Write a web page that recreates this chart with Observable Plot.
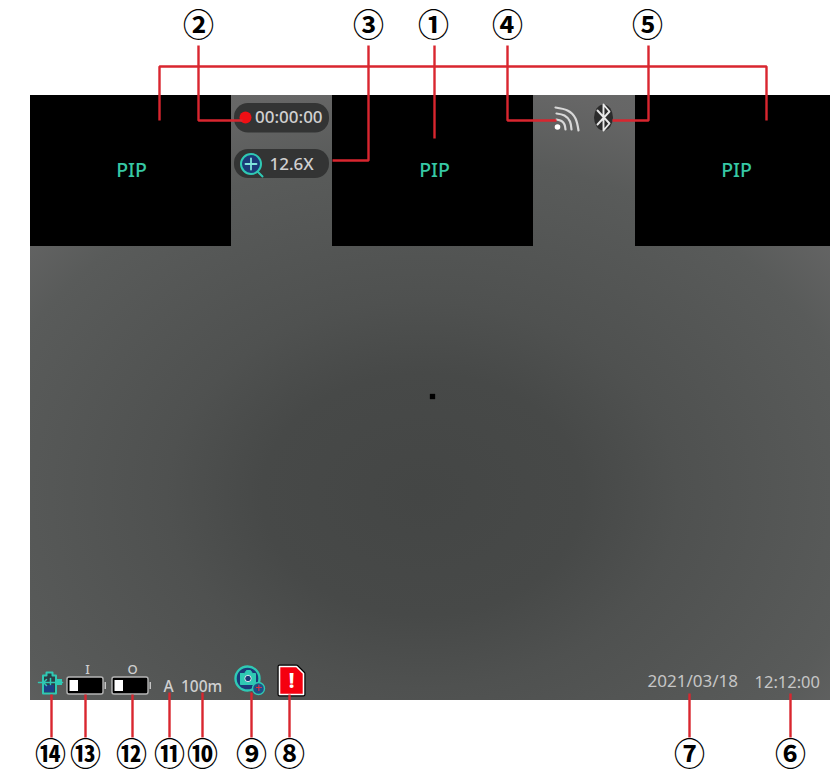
<!DOCTYPE html>
<html><head><meta charset="utf-8">
<style>html,body{margin:0;padding:0;background:#fff}svg{display:block}</style>
<script src="https://cdn.jsdelivr.net/npm/d3@7"></script>
<script src="https://cdn.jsdelivr.net/npm/@observablehq/plot@0.6"></script>
</head><body><script>
const RED="#d9262f", TEAL="#2fc9b4", NAVY="#1b3a78", LABEL="#d0d0d0";
const CALLOUT_FONT="'Noto Sans CJK SC','Noto Sans',sans-serif";

const frame=[{x1:30,x2:830,y1:95,y2:700}];
const pipPanels=[{x1:30,x2:231,y1:95,y2:246},{x1:332,x2:533,y1:95,y2:246},{x1:635,x2:830,y1:95,y2:246}];
const pipLabels=[{x:131,y:170,t:"PIP"},{x:434,y:170,t:"PIP"},{x:736,y:170,t:"PIP"}];
const pills=[{x1:234,x2:329,y1:103,y2:132.5},{x1:234,x2:329,y1:149,y2:178}];
const osdStart=[{x:254.5,y:117.5,t:"00:00:00"},{x:269,y:164,t:"12.6X"}];
const osdDate=[{x:647,y:681,t:"2021/03/18"}];
const osdTime=[{x:754,y:682,t:"12:12:00"}];
const rangeLabel=[{x:180.5,y:687,t:"100m"}];

const leaders=[
 [[159,120],[159,66],[766,66],[766,120]],
 [[434,45],[434,138]],
 [[198,45],[198,120],[242,120]],
 [[368,45],[368,160],[332,160]],
 [[507,45],[507,120],[556,120]],
 [[648,45],[648,120],[612,120]],
 [[51,694],[51,737]],[[85,694],[85,737]],[[132,694],[132,737]],[[169,692],[169,737]],
 [[202,692],[202,737]],[[251,692],[251,737]],[[289,694],[289,737]],[[689,693],[689,737]],[[790,693],[790,737]]
];
const callouts=[
 {x:433,y:25.5,t:"①"},{x:198,y:25.5,t:"②"},{x:368,y:25.5,t:"③"},{x:507,y:25.5,t:"④"},{x:647,y:25.5,t:"⑤"},
 {x:790,y:754.5,t:"⑥"},{x:689,y:754.5,t:"⑦"},{x:289,y:754.5,t:"⑧"},{x:251,y:754.5,t:"⑨"},{x:202,y:754.5,t:"⑩"},
 {x:169,y:754.5,t:"⑪"},{x:131,y:754.5,t:"⑫"},{x:85,y:754.5,t:"⑬"},{x:50,y:754.5,t:"⑭"}
];

const batteries=[{x1:67,x2:103,y1:677,y2:694},{x1:112,x2:148,y1:677,y2:694}];
const batteryFill=[{x1:69.5,x2:78,y1:680,y2:691},{x1:114.5,x2:123,y1:680,y2:691}];
const batteryNubs=[{x1:104.5,x2:106,y1:682,y2:689},{x1:149.5,x2:151,y1:682,y2:689}];
const batteryTags=[{x:87,y:669.5,t:"I"},{x:132,y:669.5,t:"O"}];

const wifiArcs=[
 [[556,119],[561,120.5],[564,124],[565,129]],
 [[556,113],[564,115],[569.5,121],[571,129]],
 [[555,107],[567,110],[575,118],[578,130]]
];
const btRune=[[597,110],[609,123],[603,130],[603,104],[609,111],[597,124]];
const sdCard=[[279,666],[296,666],[303,673],[303,694],[279,694],[279,666]];
const magHandle=[[257,171],[262,176]];
const magPlus=[[[245,163.5],[256,163.5]],[[250.5,158],[250.5,169]]];
const camBody=[[240,673],[244,673],[246,670],[250,670],[252,673],[255,673],[255,684],[240,684],[240,673]];
const pack14=[[42.5,675],[46,675],[46,672],[52,672],[52,675],[55.5,675],[55.5,693],[42.5,693],[42.5,675]];
const pack14Low=[{x1:44,x2:54,y1:685,y2:692}];
const arrow14=[[[38,682],[62,682]],[[46,679],[43,682],[46,685]],[[50,678],[50,684]]];
const nub14=[{x1:56,x2:62,y1:679,y2:685}];

const line=(pts,o)=>Plot.line(pts,{x:d=>d[0],y:d=>d[1],...o});
const R=(data,o)=>Plot.rect(data,{x1:"x1",x2:"x2",y1:"y1",y2:"y2",...o});
const T=(data,o)=>Plot.text(data,{x:"x",y:"y",text:"t",...o});
const gradient=()=>{
  const defs=d3.create("svg:defs");
  const g=defs.append("radialGradient").attr("id","sensor").attr("cx",.49).attr("cy",.66).attr("r",.8);
  [[0,"#444645"],[.25,"#474948"],[.4,"#4f5150"],[.7,"#595b5a"],[.85,"#666666"],[1,"#6a6c6b"]]
   .forEach(([o,c])=>g.append("stop").attr("offset",o).attr("stop-color",c));
  return defs.node();
};

const chart=Plot.plot({
 width:830,height:774,margin:0,
 style:{background:"#fff",fontFamily:"'Noto Sans',sans-serif"},
 x:{domain:[0,830],range:[0,830],axis:null},
 y:{domain:[0,774],range:[0,774],axis:null},
 marks:[
  gradient,
  R(frame,{fill:"url(#sensor)"}),
  R(pipPanels,{fill:"#000"}),
  R(pills,{fill:"#333434",rx:14}),
  T(pipLabels,{fill:"#36c8a4",fontSize:19.5,fontWeight:500}),
  T(osdStart,{fill:LABEL,fontSize:17,fontWeight:500,textAnchor:"start"}),
  T(osdDate,{fill:"#c6c6c6",fontSize:17,textAnchor:"start"}),
  T(osdTime,{fill:"#c6c6c6",fontSize:16.5,textAnchor:"start"}),
  T(rangeLabel,{fill:LABEL,fontSize:15.5,fontWeight:500,textAnchor:"start"}),
  Plot.dot([{x:432,y:396}],{x:"x",y:"y",r:3,symbol:"square",fill:"#000"}),
  Plot.dot([{x:245,y:117}],{x:"x",y:"y",r:6,fill:"#f00f14"}),
  // magnifier
  Plot.dot([{x:250.5,y:163.5}],{x:"x",y:"y",r:10,fill:NAVY,stroke:TEAL,strokeWidth:2}),
  line(magHandle,{stroke:TEAL,strokeWidth:2}),
  ...magPlus.map(p=>line(p,{stroke:"#7fe6dc",strokeWidth:1.8})),
  // wifi + bluetooth
  ...wifiArcs.map(a=>line(a,{stroke:"#d8d8d8",strokeWidth:2.2,curve:"natural"})),
  Plot.dot([{x:557,y:126.5}],{x:"x",y:"y",r:2.8,fill:"#fff"}),
  R([{x1:594,x2:613,y1:104.5,y2:130.5}],{fill:"#2c2c2c",rx:9.5,ry:13}),
  line(btRune,{stroke:"#e8e8e8",strokeWidth:1.9}),
  // batteries
  R(batteries,{fill:"#000",stroke:"#b5b5b5",strokeWidth:1.4,rx:2}),
  R(batteryFill,{fill:"#fff"}),
  R(batteryNubs,{fill:"#c4c4c4"}),
  T(batteryTags,{fill:LABEL,fontSize:13,fontWeight:500}),
  T([{x:168,y:686.5,t:"A"}],{fill:LABEL,fontSize:15.5,fontWeight:500}),
  // charging icon
  line(pack14,{stroke:TEAL,fill:"#2b3f46",strokeWidth:2}),
  R(pack14Low,{fill:"#1c3f86"}),
  R(nub14,{fill:TEAL}),
  ...arrow14.map(p=>line(p,{stroke:TEAL,strokeWidth:1.5})),
  // camera icon
  Plot.dot([{x:247,y:678}],{x:"x",y:"y",r:12,fill:NAVY,stroke:TEAL,strokeWidth:2.4}),
  line(camBody,{fill:TEAL,stroke:TEAL,strokeWidth:1}),
  Plot.dot([{x:247.5,y:678}],{x:"x",y:"y",r:3.2,fill:NAVY,stroke:"#fff",strokeWidth:.8}),
  Plot.dot([{x:258,y:688}],{x:"x",y:"y",r:6,fill:"#214f86",stroke:TEAL,strokeWidth:1.4}),
  T([{x:258,y:688,t:"+"}],{fill:"#e0303a",fontSize:12}),
  // SD warning
  line(sdCard,{fill:"none",stroke:"#000",strokeWidth:4}),
  line(sdCard,{fill:"#f5000f",stroke:"#fff",strokeWidth:1.6}),
  T([{x:291,y:680,t:"!"}],{fill:"#fff",fontSize:22,fontWeight:700}),
  // leaders + callouts
  ...leaders.map(p=>line(p,{stroke:RED,strokeWidth:2.4,strokeLinejoin:"miter",strokeLinecap:"butt"})),
  T(callouts,{fill:"#000",fontSize:31,fontWeight:700,fontFamily:CALLOUT_FONT})
 ]
});
document.body.append(chart);
</script></body></html>
